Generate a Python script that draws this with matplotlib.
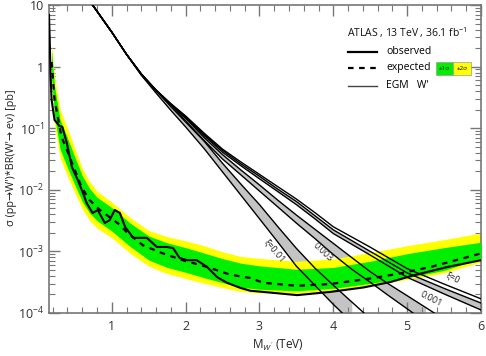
import numpy as np
import matplotlib
matplotlib.use("Agg")
import matplotlib.pyplot as plt
from matplotlib.ticker import FixedLocator, FixedFormatter, NullFormatter

plt.rcParams['font.family'] = ['Open Sans', 'DejaVu Sans']
plt.rcParams['mathtext.fontset'] = 'custom'
plt.rcParams['mathtext.rm'] = 'Open Sans'
plt.rcParams['mathtext.it'] = 'Open Sans:italic'

# observed limit [pb] vs W' mass [TeV]
m_obs = [0.15, 0.16, 0.17, 0.185, 0.225, 0.29, 0.33, 0.39, 0.46, 0.54, 0.61, 0.66,
         0.74, 0.81, 0.905, 0.97, 1.04, 1.11, 1.18, 1.29, 1.38, 1.475, 1.61, 1.75,
         1.83, 1.92, 2.02, 2.15, 2.29, 2.43, 2.56, 2.74, 2.875, 3.05, 3.51, 3.96,
         4.41, 4.78, 5.09, 5.55, 6.0]
obs = [6.9, 2.7, 0.79, 0.29, 0.136, 0.109, 0.105, 0.058, 0.0234, 0.0144, 0.0089, 0.0061,
       0.0042, 0.0047, 0.0029, 0.0032, 0.0047, 0.0042, 0.0025, 0.00166, 0.00166, 0.00166,
       0.00118, 0.00118, 0.00113, 0.00078, 0.00072, 0.00072, 0.00056, 0.00038, 0.00031,
       0.000256, 0.00023, 0.00022, 0.000195, 0.00022, 0.00026, 0.00032, 0.00041, 0.00056,
       0.00072]

# expected limit
m_exp = [0.185, 0.225, 0.32, 0.39, 0.50, 0.59, 0.70, 0.84, 0.97, 1.11, 1.20, 1.42, 1.69,
         1.96, 2.29, 2.60, 2.875, 3.05, 3.51, 3.96, 4.41, 4.87, 5.32, 5.77, 6.0]
exp = [1.19, 0.29, 0.072, 0.045, 0.021, 0.0111, 0.0068, 0.0047, 0.0036, 0.0027, 0.00207,
       0.00126, 0.00093, 0.00072, 0.00056, 0.00042, 0.00037, 0.00031, 0.000276, 0.000296,
       0.00035, 0.00043, 0.00056, 0.00078, 0.00093]

# expected bands: centre [pb] and edges in dex
m_band = [0.185, 0.225, 0.3, 0.4, 0.5, 0.6, 0.7, 0.8, 1.0, 1.25, 1.5, 1.75, 2.0, 2.25,
          2.5, 2.75, 3.0, 3.5, 4.0, 4.5, 5.0, 5.5, 6.0]
band_mid = [1.17, 0.288, 0.083, 0.0417, 0.0209, 0.0107, 0.0068, 0.0050, 0.0034, 0.0019,
            0.00115, 0.00087, 0.00071, 0.00058, 0.00046, 0.00037, 0.00032, 0.000275,
            0.000295, 0.000355, 0.00045, 0.00059, 0.00093]
up2 = [0.30, 0.38, 0.38, 0.38, 0.35, 0.32, 0.30, 0.28, 0.27, 0.27, 0.28, 0.30, 0.32, 0.33,
       0.33, 0.35, 0.38, 0.40, 0.41, 0.43, 0.44, 0.42, 0.33]
up1 = [0.20, 0.22, 0.22, 0.22, 0.21, 0.20, 0.19, 0.18, 0.18, 0.18, 0.19, 0.20, 0.21, 0.21,
       0.22, 0.24, 0.26, 0.27, 0.27, 0.29, 0.31, 0.29, 0.18]
dn1 = [0.25, 0.26, 0.26, 0.26, 0.24, 0.22, 0.21, 0.20, 0.20, 0.20, 0.20, 0.20, 0.19, 0.19,
       0.17, 0.15, 0.12, 0.08, 0.07, 0.07, 0.08, 0.08, 0.08]
dn2 = [0.38, 0.40, 0.40, 0.40, 0.37, 0.34, 0.33, 0.32, 0.31, 0.31, 0.30, 0.30, 0.29, 0.28,
       0.25, 0.22, 0.18, 0.12, 0.10, 0.10, 0.11, 0.12, 0.14]

# EGM W' theory, xi = 0 and 0.001 (upper / lower edge)
m_th = [0.74, 1.0, 1.2, 1.4, 1.6, 1.8, 2.0, 2.25, 2.5, 2.75, 3.0, 3.25, 3.5, 3.75, 4.0,
        4.5, 5.0, 5.5, 6.0]
xi0 = [10, 3.63, 1.58, 0.759, 0.417, 0.251, 0.158, 0.0832, 0.0457, 0.0282, 0.0178,
       0.0112, 0.00708, 0.00427, 0.00251, 0.00117, 0.000525, 0.000295, 0.00017]
xi001_hi = [10, 3.63, 1.58, 0.759, 0.417, 0.245, 0.155, 0.0794, 0.0437, 0.0263, 0.0166,
            0.0102, 0.00646, 0.0038, 0.00224, 0.0010, 0.000447, 0.000251, 0.000145]
xi001_lo = [10, 3.63, 1.58, 0.741, 0.407, 0.240, 0.148, 0.0759, 0.0407, 0.0245, 0.0151,
            0.00933, 0.00575, 0.00339, 0.00195, 0.000871, 0.00038, 0.000204, 0.000112]

# xi = 0.003 and 0.01
m_th2 = [0.74, 1.0, 1.2, 1.4, 1.6, 1.8, 2.0, 2.25, 2.5, 2.75, 3.0, 3.25, 3.5, 3.75, 4.0,
         4.25, 4.5, 4.75, 5.0, 5.25, 5.5]
xi003_hi = [10, 3.63, 1.58, 0.759, 0.407, 0.245, 0.145, 0.0708, 0.0372, 0.0209, 0.0120,
            0.00676, 0.00389, 0.00229, 0.00135, 0.000794, 0.000468, 0.000295, 0.000191,
            0.000123, 7.9e-5]
xi003_lo = [10, 3.63, 1.58, 0.759, 0.407, 0.240, 0.132, 0.0631, 0.0316, 0.0174, 0.00955,
            0.00525, 0.00288, 0.00162, 0.00089, 0.000513, 0.000316, 0.000191, 0.000117,
            7.1e-5]
xi01_hi = [10, 3.63, 1.58, 0.741, 0.407, 0.224, 0.126, 0.0617, 0.0269, 0.0123, 0.00575,
           0.00251, 0.00112, 0.000537, 0.000282, 0.000151, 8.1e-5]
xi01_lo = [10, 3.63, 1.58, 0.724, 0.372, 0.195, 0.105, 0.0468, 0.0195, 0.00813, 0.00339,
           0.00141, 0.000575, 0.000282, 0.000138, 7.1e-5]

fig = plt.figure(figsize=(4.86, 3.56), dpi=100)
ax = fig.add_axes([49/486., 1-313/356., 432/486., 308/356.])

gray = '#c4c4c4'
ax.fill_between(m_th, xi001_lo, xi001_hi, color=gray, lw=0, zorder=1)
n3 = len(xi003_lo)
ax.fill_between(m_th2[:n3], xi003_lo, xi003_hi[:n3], color=gray, lw=0, zorder=1)
n1 = len(xi01_lo)
ax.fill_between(m_th2[:n1], xi01_lo, xi01_hi[:n1], color=gray, lw=0, zorder=1)

mb = np.array(band_mid)
ax.fill_between(m_band, mb*10**(-np.array(dn2)), mb*10**np.array(up2),
                color='#ffff00', lw=0, zorder=2)
ax.fill_between(m_band, mb*10**(-np.array(dn1)), mb*10**np.array(up1),
                color='#00ee00', lw=0, zorder=3)

for curve in [xi0, xi001_hi, xi001_lo]:
    ax.plot(m_th, curve, c='black', lw=1.0, zorder=4)
for curve in [xi003_hi, xi003_lo, xi01_hi, xi01_lo]:
    ax.plot(m_th2[:len(curve)], curve, c='black', lw=1.0, zorder=4)

ax.plot(m_exp, exp, c='black', lw=1.6, ls=(0, (2.5, 2.5)), zorder=5)
ax.plot(m_obs, obs, c='black', lw=1.5, zorder=6)

ax.set_yscale('log')
ax.set_xlim(0.15, 6.0)
ax.set_ylim(1e-4, 10)

ax.xaxis.set_major_locator(FixedLocator([1, 2, 3, 4, 5, 6]))
ax.xaxis.set_minor_locator(FixedLocator(np.arange(0.2, 6.0, 0.2)))
ax.yaxis.set_major_locator(FixedLocator([1e-4, 1e-3, 1e-2, 1e-1, 1, 10]))
ax.yaxis.set_major_formatter(FixedFormatter(['$10^{-4}$', '$10^{-3}$', '$10^{-2}$',
                                             '$10^{-1}$', '1', '10']))
yminor = [k*10.0**e for e in range(-4, 1) for k in range(2, 10)]
ax.yaxis.set_minor_locator(FixedLocator(yminor))
ax.yaxis.set_minor_formatter(NullFormatter())

tc = '#777777'
ax.tick_params(which='both', direction='in', top=True, right=True, color=tc,
               labelsize=9, labelcolor='#333333')
ax.tick_params(which='major', length=8, width=1.0)
ax.tick_params(which='minor', length=4, width=0.8)
ax.tick_params(axis='x', pad=5)
for s in ax.spines.values():
    s.set_color(tc)
    s.set_linewidth(1.2)

fig.text(12/486., 1-158/356., "σ (pp→W')*BR(W'→ eν) [pb]", rotation=90,
         ha='center', va='center', fontsize=7.8, color='#222222')
fig.text(252/486., 1-345/356., "M$_{W'}$ (TeV)", ha='left', va='center',
         fontsize=8.5, color='#222222')

# curve labels
ax.text(3.20, 1.03e-3, "ξ=0.01", rotation=-50, fontsize=6.5, ha='center', va='center',
        color='#222222', zorder=7)
ax.text(3.86, 9.8e-4, "0.003", rotation=-43, fontsize=6.5, ha='center', va='center',
        color='#222222', zorder=7)
ax.text(5.33, 1.7e-4, "0.001", rotation=-27, fontsize=6.5, ha='center', va='center',
        color='#222222', zorder=7)
ax.text(5.62, 3.7e-4, "ξ=0", rotation=-27, fontsize=6.5, ha='center', va='center',
        color='#222222', zorder=7)

# legend
T = ax.transAxes
ax.text(0.690, 0.909, "ATLAS , 13 TeV , 36.1 fb$^{-1}$", transform=T, fontsize=7.5,
        ha='left', va='center', color='#111111')
ax.plot([0.692, 0.759], [0.847, 0.847], transform=T, c='black', lw=1.6)
ax.text(0.780, 0.850, "observed", transform=T, fontsize=7.5, ha='left', va='center')
ax.plot([0.692, 0.759], [0.795, 0.795], transform=T, c='black', lw=1.6, ls=(0, (2.5, 2.5)))
ax.text(0.780, 0.798, "expected", transform=T, fontsize=7.5, ha='left', va='center')
ax.add_patch(plt.Rectangle((0.896, 0.773), 0.039, 0.042, transform=T, fc='#00ee00',
                           ec='#999999', lw=0.5, zorder=8))
ax.add_patch(plt.Rectangle((0.935, 0.773), 0.042, 0.042, transform=T, fc='#ffff00',
                           ec='#999999', lw=0.5, zorder=8))
ax.text(0.9155, 0.794, "±1σ", transform=T, fontsize=4.5, ha='center', va='center', zorder=9)
ax.text(0.956, 0.794, "±2σ", transform=T, fontsize=4.5, ha='center', va='center', zorder=9)
ax.plot([0.692, 0.759], [0.737, 0.737], transform=T, c='#444444', lw=1.0)
ax.text(0.780, 0.740, "EGM   W'", transform=T, fontsize=7.5, ha='left', va='center')

fig.savefig("out.png", dpi=100)
